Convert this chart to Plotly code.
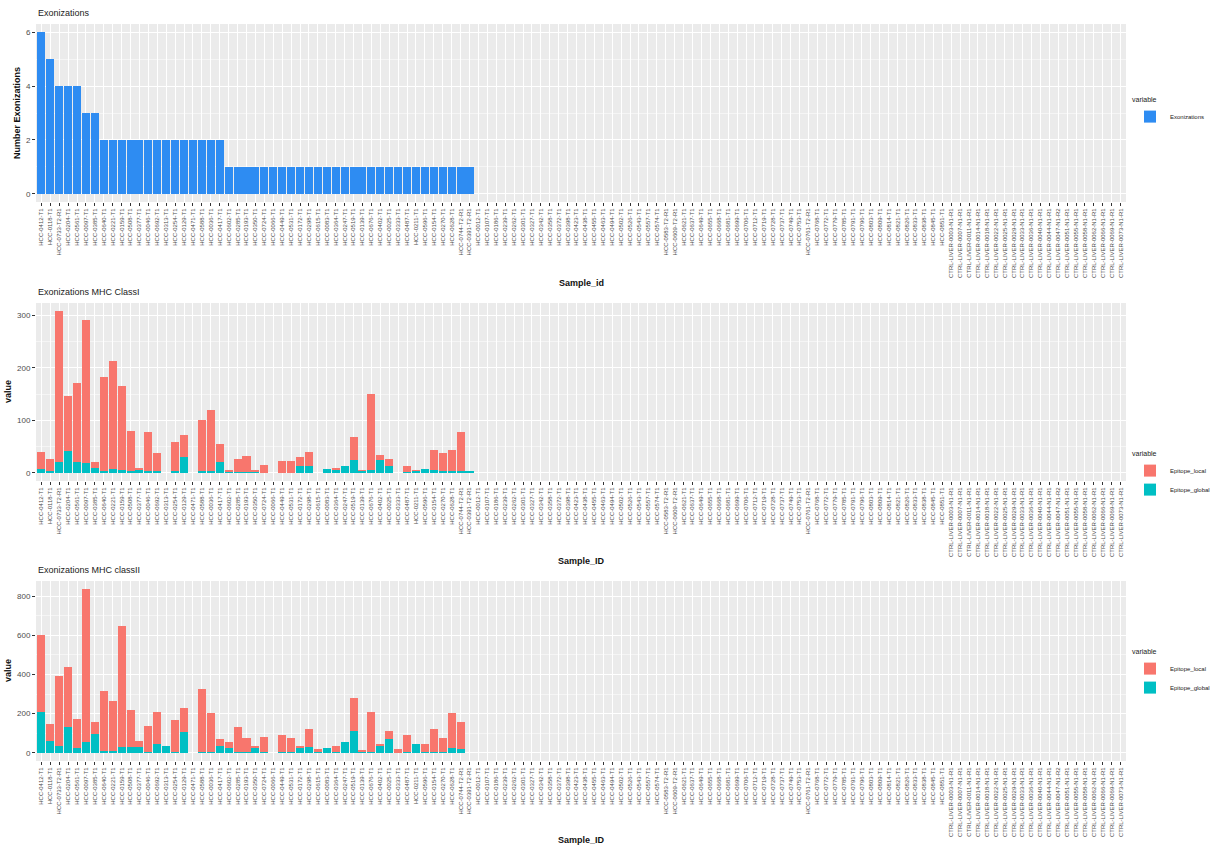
import plotly.graph_objects as go

# ---------------------------------------------------------------- data
sample_ids = [
    "HCC-0412-T1", "HCC-0118-T1", "HCC-0733-T2-R1", "HCC-0204-T1", "HCC-0561-T1",
    "HCC-0097-T1", "HCC-0385-T1", "HCC-0640-T1", "HCC-0221-T1", "HCC-0159-T1",
    "HCC-0508-T1", "HCC-0377-T1", "HCC-0046-T1", "HCC-0692-T1", "HCC-0313-T1",
    "HCC-0254-T1", "HCC-0129-T1", "HCC-0471-T1", "HCC-0588-T1", "HCC-0036-T1",
    "HCC-0417-T1", "HCC-0602-T1", "HCC-0285-T1", "HCC-0193-T1", "HCC-0350-T1",
    "HCC-0724-T1", "HCC-0066-T1", "HCC-0449-T1", "HCC-0531-T1", "HCC-0172-T1",
    "HCC-0298-T1", "HCC-0615-T1", "HCC-0083-T1", "HCC-0364-T1", "HCC-0247-T1",
    "HCC-0519-T1", "HCC-0139-T1", "HCC-0676-T1", "HCC-0402-T1", "HCC-0025-T1",
    "HCC-0333-T1", "HCC-0487-T1", "HCC-0211-T1", "HCC-0596-T1", "HCC-0154-T1",
    "HCC-0270-T1", "HCC-0628-T1", "HCC-0744-T2-R1", "HCC-0391-T2-R1",
    "HCC-0012-T1", "HCC-0107-T1", "HCC-0186-T1", "HCC-0239-T1", "HCC-0262-T1",
    "HCC-0301-T1", "HCC-0327-T1", "HCC-0342-T1", "HCC-0358-T1", "HCC-0372-T1",
    "HCC-0398-T1", "HCC-0423-T1", "HCC-0438-T1", "HCC-0455-T1", "HCC-0463-T1",
    "HCC-0494-T1", "HCC-0502-T1", "HCC-0526-T1", "HCC-0543-T1", "HCC-0557-T1",
    "HCC-0574-T1", "HCC-0583-T2-R1", "HCC-0609-T2-R1", "HCC-0621-T1", "HCC-0637-T1",
    "HCC-0649-T1", "HCC-0655-T1", "HCC-0668-T1", "HCC-0681-T1", "HCC-0699-T1",
    "HCC-0706-T1", "HCC-0712-T1", "HCC-0719-T1", "HCC-0728-T1", "HCC-0737-T1",
    "HCC-0749-T1", "HCC-0753-T1", "HCC-0761-T2-R1", "HCC-0768-T1", "HCC-0772-T1",
    "HCC-0779-T1", "HCC-0785-T1", "HCC-0791-T1", "HCC-0796-T1", "HCC-0803-T1",
    "HCC-0809-T1", "HCC-0814-T1", "HCC-0821-T1", "HCC-0826-T1", "HCC-0833-T1",
    "HCC-0838-T1", "HCC-0845-T1", "HCC-0851-T1",
    "CTRL-LIVER-0003-N1-R1", "CTRL-LIVER-0007-N1-R1", "CTRL-LIVER-0011-N1-R1",
    "CTRL-LIVER-0014-N1-R1", "CTRL-LIVER-0018-N1-R1", "CTRL-LIVER-0022-N1-R1",
    "CTRL-LIVER-0025-N1-R1", "CTRL-LIVER-0029-N1-R1", "CTRL-LIVER-0033-N1-R1",
    "CTRL-LIVER-0036-N1-R1", "CTRL-LIVER-0040-N1-R1", "CTRL-LIVER-0044-N1-R1",
    "CTRL-LIVER-0047-N1-R2", "CTRL-LIVER-0051-N1-R1", "CTRL-LIVER-0055-N1-R1",
    "CTRL-LIVER-0058-N1-R1", "CTRL-LIVER-0062-N1-R1", "CTRL-LIVER-0066-N1-R1",
    "CTRL-LIVER-0069-N1-R1", "CTRL-LIVER-0073-N1-R1",
]

# number of exonizations per sample (samples with at least one event)
exonizations = [6, 5, 4, 4, 4, 3, 3,
                2, 2, 2, 2, 2, 2, 2, 2, 2, 2, 2, 2, 2, 2,
                1, 1, 1, 1, 1, 1, 1, 1, 1, 1, 1, 1, 1, 1,
                1, 1, 1, 1, 1, 1, 1, 1, 1, 1, 1, 1, 1, 1]

# MHC class I epitopes
mhc1_local = [31, 22, 287, 105, 152, 273, 12, 179, 205, 160, 75, 4, 75, 34, 0,
              56, 43, 0, 98, 117, 34, 4, 26, 32, 3, 16, 0, 22, 22, 16, 27, 0,
              0, 2, 0, 44, 1, 144, 10, 13, 0, 13, 1, 0, 37, 35, 40, 73, 0]
mhc1_global = [8, 4, 21, 41, 20, 19, 9, 4, 8, 6, 4, 5, 3, 3, 0,
               3, 30, 0, 3, 3, 21, 2, 1, 1, 2, 0, 0, 0, 0, 14, 13, 0,
               7, 6, 14, 25, 4, 6, 24, 13, 0, 1, 4, 8, 6, 3, 4, 4, 2]

# MHC class II epitopes
mhc2_local = [390, 90, 355, 304, 149, 782, 58, 308, 258, 620, 192, 32, 136, 163, 0,
              163, 123, 0, 322, 200, 34, 27, 129, 76, 8, 81, 0, 88, 76, 3, 93, 18,
              0, 33, 0, 173, 12, 208, 9, 42, 18, 90, 0, 43, 118, 73, 182, 140, 0]
mhc2_global = [211, 58, 37, 134, 24, 54, 97, 10, 7, 29, 29, 29, 3, 46, 37,
               5, 105, 0, 2, 2, 37, 27, 2, 2, 29, 2, 0, 2, 2, 29, 29, 2,
               27, 3, 54, 109, 2, 3, 37, 70, 0, 2, 46, 3, 3, 2, 24, 20, 0]

panel_titles = ["Exonizations", "Exonizations MHC ClassI", "Exonizations MHC classII"]
x_titles = ["Sample_id", "Sample_ID", "Sample_ID"]
y_titles = ["Number Exonizations", "value", "value"]
legend_names = ["Exonizations", "Epitope_local", "Epitope_global"]

# ---------------------------------------------------------------- style
W, H = 1218, 851
FONT = "Liberation Sans"
BLUE = "#2E8CF2"
RED = "#F8766D"
TEAL = "#00BFC4"
PANEL_BG = "#EBEBEB"

X0, X1 = 36, 1126                       # plot area, pixels
panels_px = [(24, 202), (303, 481), (581, 761)]   # (top, bottom) pixels
y_ranges = [[-0.3, 6.3], [-15.4, 323.4], [-41.8, 877.8]]
y_dticks = [2, 100, 200]

def fy(py):
    return 1 - py / H

def fx(px):
    return px / W

n_with_data = len(exonizations)
ids_with_data = sample_ids[:n_with_data]

fig = go.Figure()

fig.add_trace(go.Bar(x=ids_with_data, y=exonizations, name=legend_names[0],
                     marker=dict(color=BLUE, line=dict(width=0)),
                     showlegend=True,
                     xaxis="x", yaxis="y", legend="legend"))

for k, (loc, glob) in enumerate([(mhc1_local, mhc1_global), (mhc2_local, mhc2_global)], start=2):
    leg = f"legend{k}"
    fig.add_trace(go.Bar(x=ids_with_data, y=glob, name=legend_names[2],
                         marker=dict(color=TEAL, line=dict(width=0)),
                         xaxis=f"x{k}", yaxis=f"y{k}", legend=leg,
                         showlegend=True, legendrank=2))
    fig.add_trace(go.Bar(x=ids_with_data, y=loc, name=legend_names[1],
                         marker=dict(color=RED, line=dict(width=0)),
                         xaxis=f"x{k}", yaxis=f"y{k}", legend=leg,
                         showlegend=True, legendrank=1))

layout = dict(
    width=W, height=H,
    margin=dict(l=0, r=0, t=0, b=0),
    paper_bgcolor="white",
    plot_bgcolor=PANEL_BG,
    barmode="stack",
    bargap=0.1,
    font=dict(family=FONT, color="#4D4D4D"),
    annotations=[],
)

for i in range(3):
    sfx = "" if i == 0 else str(i + 1)
    top, bot = panels_px[i]
    layout[f"xaxis{sfx}"] = dict(
        domain=[fx(X0), fx(X1)],
        anchor=f"y{sfx}",
        type="category",
        categoryorder="array",
        categoryarray=sample_ids,
        tickmode="array",
        tickvals=sample_ids,
        ticktext=sample_ids,
        range=[-0.6, len(sample_ids) - 0.4],
        tickangle=-90,
        tickfont=dict(size=6, color="#4D4D4D", family=FONT),
        ticks="outside", ticklen=3, tickwidth=0.6, tickcolor="#333333",
        showgrid=True, gridcolor="white", gridwidth=1,
        showline=False, zeroline=False,
    )
    layout[f"yaxis{sfx}"] = dict(
        domain=[fy(bot), fy(top)],
        anchor=f"x{sfx}",
        range=y_ranges[i],
        dtick=y_dticks[i], tick0=0,
        tickfont=dict(size=8, color="#4D4D4D", family=FONT),
        ticks="outside", ticklen=3, tickwidth=0.6, tickcolor="#333333",
        showgrid=True, gridcolor="white", gridwidth=1.1,
        minor=dict(dtick=y_dticks[i] / 2, tick0=0, showgrid=True,
                   gridcolor="#F5F5F5", gridwidth=0.6, ticks=""),
        showline=False, zeroline=False,
    )
    # panel title
    layout["annotations"].append(dict(
        text=panel_titles[i], xref="paper", yref="paper",
        x=fx(X0), y=fy(top - 4), xanchor="left", yanchor="bottom",
        showarrow=False, font=dict(size=9, color="#222222", family=FONT)))
    # x axis title
    x_title_y = [283, 561, 840][i]
    layout["annotations"].append(dict(
        text=f"<b>{x_titles[i]}</b>", xref="paper", yref="paper",
        x=fx((X0 + X1) / 2), y=fy(x_title_y), xanchor="center", yanchor="middle",
        showarrow=False, font=dict(size=9, color="#111111", family=FONT)))
    # y axis title
    y_title_x = [17, 8, 8][i]
    layout["annotations"].append(dict(
        text=f"<b>{y_titles[i]}</b>", xref="paper", yref="paper",
        x=fx(y_title_x), y=fy((top + bot) / 2), xanchor="center", yanchor="middle",
        textangle=-90, showarrow=False,
        font=dict(size=9, color="#111111", family=FONT)))

legend_tops = [93, 447, 645]
for i, ltop in enumerate(legend_tops):
    key = "legend" if i == 0 else f"legend{i + 1}"
    layout[key] = dict(
        x=fx(1130), y=fy(ltop), xanchor="left", yanchor="top",
        bgcolor="rgba(0,0,0,0)",
        title=dict(text="variable", font=dict(size=7, color="#222222", family=FONT)),
        font=dict(size=6, color="#222222", family=FONT),
        tracegroupgap=0, itemsizing="constant",
        traceorder="normal",
    )

fig.update_layout(**layout)
fig.write_html("out.html")
